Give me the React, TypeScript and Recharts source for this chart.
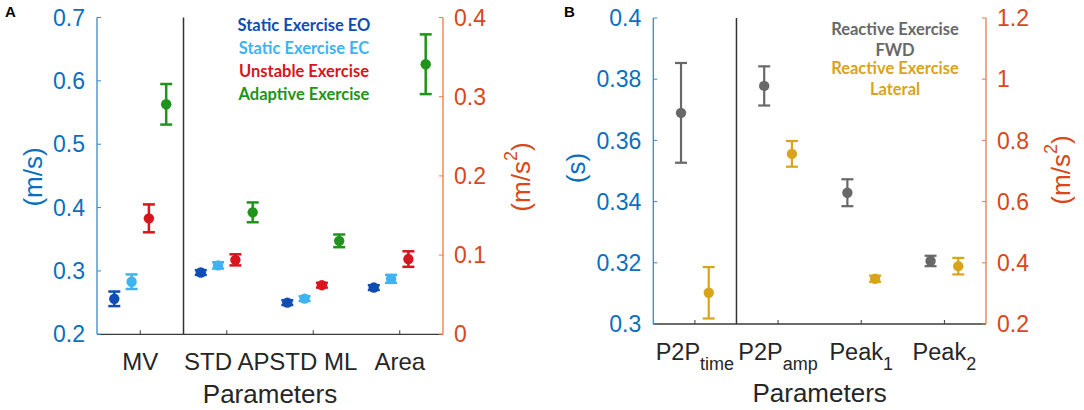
import React from "react";
import {
  ComposedChart,
  Scatter,
  XAxis,
  YAxis,
  ZAxis,
  ErrorBar,
  ReferenceLine,
} from "recharts";

const FONT = "'Liberation Sans', Arial, sans-serif";
const LEGEND_FONT = "Lato, 'Open Sans', sans-serif";
const BLUE = "#0A6FC0";
const BLUE_LINE = "#2B8DD8";
const ORANGE = "#D9471A";
const ORANGE_LINE = "#EC7A45";
const INK = "#262626";

// ---- panel A ----
const catsA = ["MV", "STD AP", "STD ML", "Area"];
const groupsA = [
  "Static Exercise EO",
  "Static Exercise EC",
  "Unstable Exercise",
  "Adaptive Exercise",
];
const colorsA = ["#0F4DB4", "#3DB3F2", "#D8141C", "#1F931A"];
// MV in m/s (left axis), the rest in m/s^2 (right axis)
const staticEO = [0.256, 0.078, 0.04, 0.059];
const staticEOErr = [0.0115, 0.003, 0.003, 0.003];
const staticEC = [0.283, 0.087, 0.045, 0.07];
const staticECErr = [0.0115, 0.004, 0.003, 0.005];
const unstable = [0.383, 0.094, 0.062, 0.095];
const unstableErr = [0.022, 0.007, 0.003, 0.0098];
const adaptive = [0.563, 0.154, 0.118, 0.341];
const adaptiveErr = [0.032, 0.0125, 0.008, 0.0377];
const valuesA = [staticEO, staticEC, unstable, adaptive];
const errorsA = [staticEOErr, staticECErr, unstableErr, adaptiveErr];
const offsetsA = [-0.3, -0.1, 0.1, 0.3];

// ---- panel B ----
const catsB = ["P2P", "P2P", "Peak", "Peak"];
const subsB = ["time", "amp", "1", "2"];
const groupsB = ["Reactive Exercise FWD", "Reactive Exercise Lateral"];
const colorsB = ["#686868", "#D9A41A"];
// P2P time in s (left axis), the rest in m/s^2 (right axis)
const fwd = [0.369, 0.978, 0.629, 0.406];
const fwdErr = [0.0163, 0.064, 0.044, 0.017];
const lateral = [0.3102, 0.756, 0.348, 0.389];
const lateralErr = [0.0084, 0.042, 0.01, 0.027];
const valuesB = [fwd, lateral];
const errorsB = [fwdErr, lateralErr];
const offsetsB = [-1 / 6, 1 / 6];

const fmt = (v: number) => String(Math.round(v * 100) / 100);

const points = (vals: number[], errs: number[], off: number, idx: number[]) =>
  idx.map((i) => ({ x: i + 1 + off, y: vals[i], err: errs[i] }));

const yLabel =
  (text: string, side: "left" | "right", dist: number, cy: number, color: string, sup?: string) =>
  (props: any) => {
    const vb = props.viewBox;
    const cx = side === "left" ? vb.x + vb.width - dist : vb.x + dist;
    return (
      <text
        x={cx}
        y={cy}
        transform={`rotate(-90, ${cx}, ${cy})`}
        textAnchor="middle"
        dominantBaseline="central"
        fill={color}
        fontSize={26}
        fontFamily={FONT}>
        <tspan>{text}</tspan>
        {sup ? (
          <>
            <tspan dy={-10} fontSize={18}>
              {sup}
            </tspan>
            <tspan dy={10}>)</tspan>
          </>
        ) : null}
      </text>
    );
  };

const xLabel = (dy: number) => (props: any) => {
  const vb = props.viewBox;
  return (
    <text
      x={vb.x + vb.width / 2}
      y={vb.y + dy}
      textAnchor="middle"
      fill={INK}
      fontSize={26}
      fontFamily={FONT}>
      Parameters
    </text>
  );
};

const tickA = (p: any) => (
  <text
    x={p.x}
    y={p.y}
    dy="0.71em"
    textAnchor="middle"
    fill={INK}
    fontSize={24}
    fontFamily={FONT}>
    {catsA[Math.round(p.payload.value) - 1]}
  </text>
);

const tickB = (p: any) => {
  const i = Math.round(p.payload.value) - 1;
  return (
    <text
      x={p.x}
      y={p.y}
      dy="0.71em"
      textAnchor="middle"
      fill={INK}
      fontSize={23.5}
      fontFamily={FONT}>
      <tspan>{catsB[i]}</tspan>
      <tspan dy={10} fontSize={18}>
        {subsB[i]}
      </tspan>
    </text>
  );
};

const PanelA = () => (
  <ComposedChart
    width={540}
    height={410}
    margin={{ top: 17.5, right: 27, bottom: 25.7, left: 27 }}>
    <XAxis
      dataKey="x"
      type="number"
      domain={[0.5, 4.5]}
      ticks={[1, 2, 3, 4]}
      interval={0}
      height={50}
      tickSize={-4}
      tickMargin={23}
      tick={tickA}
      axisLine={{ stroke: "#3a3a3a", strokeWidth: 1.3 }}
      tickLine={{ stroke: "#3a3a3a" }}
      label={{ content: xLabel(69) }}
    />
    <YAxis
      yAxisId="l"
      orientation="left"
      type="number"
      domain={[0.2, 0.7]}
      ticks={[0.2, 0.3, 0.4, 0.5, 0.6, 0.7]}
      interval={0}
      allowDataOverflow
      width={70}
      tickSize={-4}
      tickMargin={16}
      tickFormatter={fmt}
      tick={{ fill: BLUE, fontSize: 23, fontFamily: FONT }}
      axisLine={{ stroke: BLUE_LINE, strokeWidth: 1.3 }}
      tickLine={{ stroke: BLUE_LINE }}
      label={{ content: yLabel("(m/s)", "left", 64, 177, BLUE) }}
    />
    <YAxis
      yAxisId="r"
      orientation="right"
      type="number"
      domain={[0, 0.4]}
      ticks={[0, 0.1, 0.2, 0.3, 0.4]}
      interval={0}
      allowDataOverflow
      width={70}
      tickSize={-4}
      tickMargin={15}
      tickFormatter={fmt}
      tick={{ fill: ORANGE, fontSize: 23, fontFamily: FONT }}
      axisLine={{ stroke: ORANGE_LINE, strokeWidth: 1.3 }}
      tickLine={{ stroke: ORANGE_LINE }}
      label={{ content: yLabel("(m/s", "right", 78, 177, ORANGE, "2") }}
    />
    <ZAxis range={[85, 85]} />
    <ReferenceLine yAxisId="l" x={1.5} stroke="#333" strokeWidth={1.5} />
    {groupsA.map((g, gi) => (
      <Scatter
        key={g + "-l"}
        name={g}
        yAxisId="l"
        dataKey="y"
        data={points(valuesA[gi], errorsA[gi], offsetsA[gi], [0])}
        fill={colorsA[gi]}
        isAnimationActive={false}>
        <ErrorBar dataKey="err" direction="y" width={6} strokeWidth={2.5} stroke={colorsA[gi]} />
      </Scatter>
    ))}
    {groupsA.map((g, gi) => (
      <Scatter
        key={g + "-r"}
        name={g}
        yAxisId="r"
        dataKey="y"
        data={points(valuesA[gi], errorsA[gi], offsetsA[gi], [1, 2, 3])}
        fill={colorsA[gi]}
        isAnimationActive={false}>
        <ErrorBar dataKey="err" direction="y" width={6} strokeWidth={2.5} stroke={colorsA[gi]} />
      </Scatter>
    ))}
  </ComposedChart>
);

const PanelB = () => (
  <ComposedChart
    width={544}
    height={410}
    margin={{ top: 18, right: 28, bottom: 36, left: 43.3 }}>
    <XAxis
      dataKey="x"
      type="number"
      domain={[0.5, 4.5]}
      ticks={[1, 2, 3, 4]}
      interval={0}
      height={50}
      tickSize={-4}
      tickMargin={23}
      tick={tickB}
      axisLine={{ stroke: "#3a3a3a", strokeWidth: 1.3 }}
      tickLine={{ stroke: "#3a3a3a" }}
      label={{ content: xLabel(78) }}
    />
    <YAxis
      yAxisId="l"
      orientation="left"
      type="number"
      domain={[0.3, 0.4]}
      ticks={[0.3, 0.32, 0.34, 0.36, 0.38, 0.4]}
      interval={0}
      allowDataOverflow
      width={70}
      tickSize={-4}
      tickMargin={16}
      tickFormatter={fmt}
      tick={{ fill: BLUE, fontSize: 23, fontFamily: FONT }}
      axisLine={{ stroke: BLUE_LINE, strokeWidth: 1.3 }}
      tickLine={{ stroke: BLUE_LINE }}
      label={{ content: yLabel("(s)", "left", 77, 168, BLUE) }}
    />
    <YAxis
      yAxisId="r"
      orientation="right"
      type="number"
      domain={[0.2, 1.2]}
      ticks={[0.2, 0.4, 0.6, 0.8, 1, 1.2]}
      interval={0}
      allowDataOverflow
      width={70}
      tickSize={-4}
      tickMargin={15}
      tickFormatter={fmt}
      tick={{ fill: ORANGE, fontSize: 23, fontFamily: FONT }}
      axisLine={{ stroke: ORANGE_LINE, strokeWidth: 1.3 }}
      tickLine={{ stroke: ORANGE_LINE }}
      label={{ content: yLabel("(m/s", "right", 75, 170, ORANGE, "2") }}
    />
    <ZAxis range={[85, 85]} />
    <ReferenceLine yAxisId="l" x={1.5} stroke="#333" strokeWidth={1.5} />
    {groupsB.map((g, gi) => (
      <Scatter
        key={g + "-l"}
        name={g}
        yAxisId="l"
        dataKey="y"
        data={points(valuesB[gi], errorsB[gi], offsetsB[gi], [0])}
        fill={colorsB[gi]}
        isAnimationActive={false}>
        <ErrorBar dataKey="err" direction="y" width={6} strokeWidth={2.2} stroke={colorsB[gi]} />
      </Scatter>
    ))}
    {groupsB.map((g, gi) => (
      <Scatter
        key={g + "-r"}
        name={g}
        yAxisId="r"
        dataKey="y"
        data={points(valuesB[gi], errorsB[gi], offsetsB[gi], [1, 2, 3])}
        fill={colorsB[gi]}
        isAnimationActive={false}>
        <ErrorBar dataKey="err" direction="y" width={6} strokeWidth={2.2} stroke={colorsB[gi]} />
      </Scatter>
    ))}
  </ComposedChart>
);

const legendText = (
  text: string,
  color: string,
  cx: number,
  cy: number
) => (
  <div
    key={text + cy}
    style={{
      position: "absolute",
      left: cx - 100,
      top: cy - 10,
      width: 200,
      lineHeight: "20px",
      textAlign: "center",
      color,
      fontFamily: LEGEND_FONT,
      fontWeight: 700,
      fontSize: 16.5,
      whiteSpace: "nowrap",
    }}>
    {text}
  </div>
);

const panelLetter = (text: string, left: number) => (
  <div
    style={{
      position: "absolute",
      left,
      top: 4,
      lineHeight: "16px",
      fontFamily: FONT,
      fontWeight: 700,
      fontSize: 15,
      color: "#000",
    }}>
    {text}
  </div>
);

export default function App() {
  const legendAY = [25, 48, 71, 94];
  return (
    <div
      style={{
        position: "absolute",
        left: 0,
        top: 0,
        width: 1084,
        height: 410,
        background: "#fff",
        overflow: "hidden",
      }}>
      <div style={{ position: "absolute", left: 0, top: 0 }}>
        <PanelA />
      </div>
      <div style={{ position: "absolute", left: 540, top: 0 }}>
        <PanelB />
      </div>
      {panelLetter("A", 5)}
      {panelLetter("B", 564)}
      {groupsA.map((g, i) => legendText(g, colorsA[i], 304, legendAY[i]))}
      {legendText("Reactive Exercise", colorsB[0], 895, 29)}
      {legendText("FWD", colorsB[0], 895, 50)}
      {legendText("Reactive Exercise", colorsB[1], 895, 68)}
      {legendText("Lateral", colorsB[1], 895, 89)}
    </div>
  );
}
